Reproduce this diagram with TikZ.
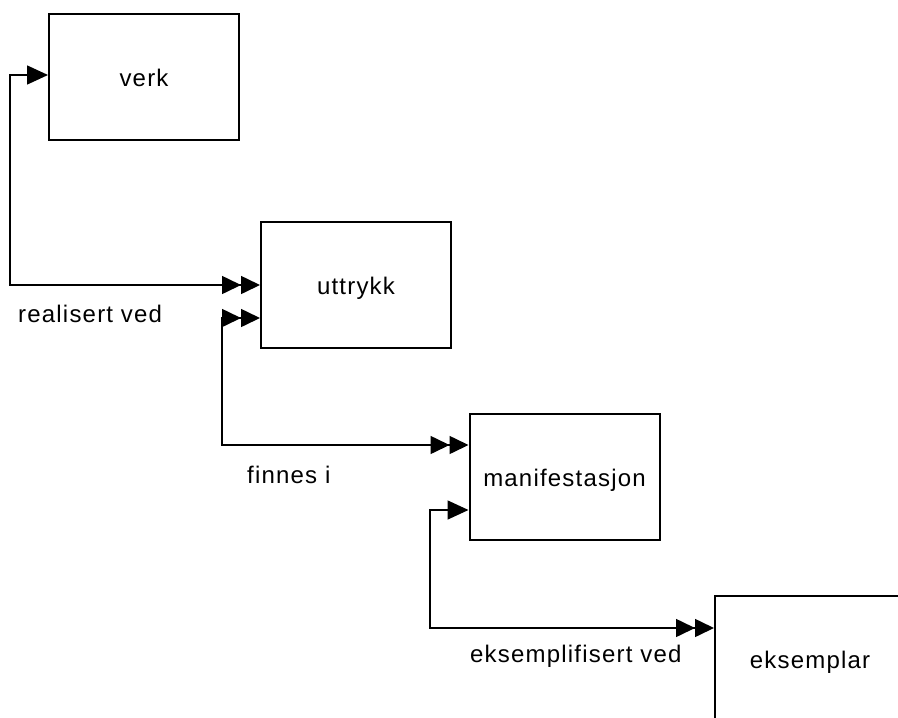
\documentclass[tikz,border=0pt]{standalone}
\usepackage{fontspec}
\newfontfamily\labfont[LetterSpace=5]{Liberation Sans}
\usetikzlibrary{arrows.meta}
\tikzset{
  entity/.style={draw, line width=2pt, minimum width=190pt, minimum height=126pt,
    inner sep=0pt, font=\labfont\fontsize{24pt}{28pt}\selectfont, text height=19pt, text depth=0pt},
  rellabel/.style={anchor=base west, inner sep=0pt, font=\labfont\fontsize{24pt}{28pt}\selectfont},
  conn/.style={line width=1.6pt},
  sgl/.tip={Triangle[length=21pt,width=19pt]},
  dbl/.tip={Triangle[length=19pt,width=18pt,sep=0pt] Triangle[length=19pt,width=18pt]}
}
\begin{document}
\begin{tikzpicture}[x=1pt,y=-1pt]
\useasboundingbox (0,0) rectangle (898,718);
\fill[white] (0,0) rectangle (898,718);
\clip (0,0) rectangle (898,718);
\node[entity] (verk) at (144,77) {verk};
\node[entity] (uttrykk) at (356,285) {uttrykk};
\node[entity] (manifestasjon) at (564.5,477) {manifestasjon};
\node[entity] (eksemplar) at (810,659) {eksemplar};
\coordinate (k1) at (10,285);
\coordinate (k2) at (222,445);
\coordinate (k3) at (430,628);
\draw[conn, sgl-dbl] ([yshift=2pt]verk.west) -| (k1) -- (uttrykk.west);
\draw[conn, dbl-dbl] ([yshift=-33pt]uttrykk.west) -| (k2) -- ([yshift=32pt]manifestasjon.west);
\draw[conn, sgl-dbl] ([yshift=-33pt]manifestasjon.west) -| (k3) -- ([yshift=31pt]eksemplar.west);
\node[rellabel] (l1) at (18,322) {realisert ved};
\node[rellabel] (l2) at (247,483) {finnes i};
\node[rellabel] (l3) at (470,662) {eksemplifisert ved};
\end{tikzpicture}
\end{document}
